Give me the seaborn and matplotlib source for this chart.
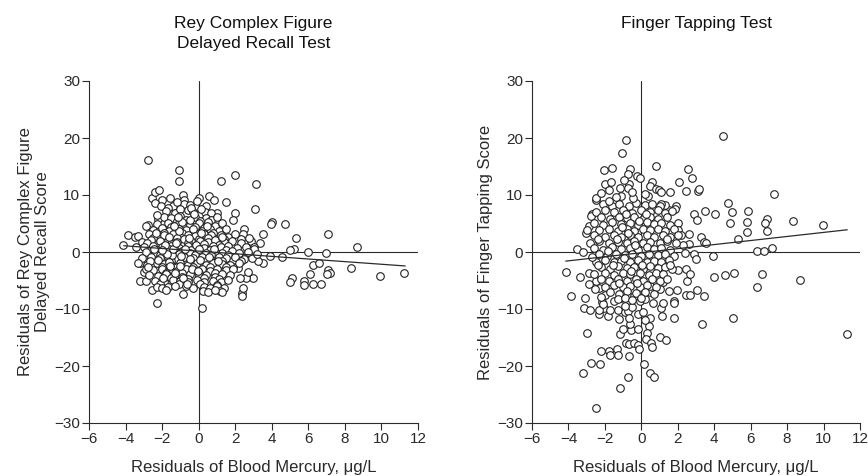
import matplotlib
matplotlib.use("Agg")
import matplotlib.pyplot as plt
import seaborn as sns
import pandas as pd

# ---------------- data ----------------
titles = ["Rey Complex Figure\nDelayed Recall Test", "Finger Tapping Test"]
ylabels = ["Residuals of Rey Complex Figure\nDelayed Recall Score",
           "Residuals of Finger Tapping Score"]
xlabel = "Residuals of Blood Mercury, \u03bcg/L"
x_ticks = [-6, -4, -2, 0, 2, 4, 6, 8, 10, 12]
y_ticks = [-30, -20, -10, 0, 10, 20, 30]

# Rey Complex Figure: (mercury residual, score residual)
rey_points = [
    # outliers / sparse
    (-2.77, 16.1), (-1.07, 14.4), (-1.07, 12.4), (1.24, 12.5), (1.99, 13.5), (3.11, 11.9),
    (3.10, 7.5), (0.02, 9.5), (0.56, 9.8), (0.84, 9.2), (1.49, 8.7), (1.99, 6.9), (1.88, 5.6),
    (2.48, 4.0), (2.44, 3.2), (2.88, 2.0), (3.52, 3.2), (3.37, 1.6), (4.01, 5.3), (3.97, 4.9),
    (4.72, 4.9), (5.30, 2.5), (5.21, 0.6), (4.97, 0.3), (5.97, 0.0), (7.07, 3.2), (6.98, -0.1),
    (8.67, 0.8), (3.92, -0.7), (4.57, -0.8), (3.50, -2.0), (3.24, -1.5), (5.08, -4.5),
    (5.01, -5.3), (5.77, -5.0), (5.76, -5.8), (6.08, -3.9), (6.28, -2.2), (6.56, -1.9),
    (6.28, -5.7), (6.68, -5.7), (7.10, -3.1), (7.21, -3.6), (7.03, -3.9), (8.31, -2.8),
    (9.93, -4.2), (11.22, -3.6), (2.39, -7.2), (2.39, -7.7), (2.42, -6.4), (0.18, -9.9),
    (-2.26, -8.9), (-0.87, -7.3), (2.97, -4.5), (2.60, -4.5), (2.28, -4.5), (2.70, -3.5),
    (2.13, -2.8), (1.88, -2.6), (-4.13, 1.3), (-3.86, 3.0), (-3.50, 2.6), (-3.41, 0.8),
    (-3.22, -5.0), (-2.86, -5.0), (-3.22, -2.0), (-3.00, -3.5), (-2.57, -6.7),
    (2.55, -0.6), (2.90, -1.1), (3.05, 0.9), (2.75, 2.4), (2.30, 2.2),
    # upper cluster
    (-2.53, 9.5), (-1.99, 9.2), (-1.55, 9.5), (-0.86, 10.0), (-0.80, 9.2), (-2.40, 8.6),
    (-2.04, 8.0), (-1.40, 8.1), (-0.80, 8.5), (-2.37, 10.5), (-2.17, 10.9), (-2.77, 4.8),
    (-2.90, 4.5), (-1.20, 8.8), (-0.50, 8.3), (0.40, 8.0), (-1.70, 7.8), (1.00, 6.8), (-0.10, 9.0),
    (-1.8, 7.2), (-1.3, 6.8), (-0.6, 7.4), (-0.3, 7.0), (0.1, 6.6), (0.35, 7.1), (0.7, 6.9),
    (-1.0, 7.6), (-0.4, 7.8), (0.15, 7.5),
    (-2.2, 5.8), (-1.9, 6.2), (-1.5, 5.9), (-1.0, 6.3), (-0.7, 5.7), (-0.2, 6.1), (0.4, 6.0),
    (0.7, 5.6), (1.0, 6.2), (-2.3, 6.5), (-1.2, 5.4), (0.1, 5.5),
    (-2.3, 4.9), (-1.7, 5.1), (-1.2, 4.7), (-0.9, 5.2), (-0.5, 4.8), (0.0, 5.0), (0.5, 5.3),
    (0.9, 4.6), (1.3, 5.1), (-1.5, 4.4), (-0.2, 4.4), (0.3, 4.2),
    (-2.5, 3.9), (-2.0, 4.2), (-1.6, 3.7), (-1.1, 4.0), (-0.7, 3.8), (-0.3, 4.1), (0.2, 3.6),
    (0.6, 4.0), (1.1, 3.7), (1.5, 4.1), (-1.9, 3.4), (-0.9, 3.3), (0.8, 3.3),
    (-3.3, 2.8), (-2.7, 3.1), (-2.3, 2.9), (-1.9, 3.0), (-1.4, 3.2), (-1.0, 2.7), (-0.6, 3.0),
    (-0.2, 2.8), (0.3, 3.1), (0.7, 2.9), (1.2, 3.0), (1.6, 2.6), (2.0, 3.1), (-2.5, 2.5),
    (-1.2, 2.4), (0.0, 2.3), (0.5, 2.5), (1.4, 2.2),
    (-3.1, 1.8), (-2.6, 2.1), (-2.1, 1.9), (-1.7, 2.0), (-1.2, 1.8), (-0.8, 2.2), (-0.4, 1.9),
    (0.1, 2.0), (0.5, 1.7), (0.9, 2.1), (1.4, 1.8), (1.8, 2.0), (2.3, 1.6), (-2.8, 1.5),
    (-1.5, 1.4), (-0.6, 1.5), (0.3, 1.4), (1.1, 1.3),
    (-3.0, 0.9), (-2.5, 1.1), (-2.0, 0.8), (-1.5, 1.0), (-1.1, 0.7), (-0.6, 1.1), (-0.2, 0.9),
    (0.3, 0.7), (0.8, 1.0), (1.2, 0.8), (1.6, 1.1), (2.1, 0.7), (2.6, 0.9), (3.0, 0.6),
    (-2.3, 0.4), (-1.3, 0.3), (-0.4, 0.4), (0.6, 0.3), (1.5, 0.4),
    (-2.9, 0.0), (-2.4, -0.2), (-1.8, 0.1), (-1.4, -0.1), (-0.9, 0.2), (-0.5, -0.1), (0.0, 0.1),
    (0.4, -0.2), (0.9, 0.0), (1.3, -0.2), (1.8, 0.1), (2.2, -0.1), (2.7, 0.0), (3.2, -0.3),
    (-2.1, -0.5), (-1.1, -0.4), (-0.2, -0.5), (0.7, -0.5), (1.6, -0.6),
    (-3.1, -1.0), (-2.6, -0.8), (-2.1, -1.1), (-1.7, -0.9), (-1.3, -1.2), (-0.8, -0.9),
    (-0.3, -1.1), (0.2, -0.8), (0.6, -1.2), (1.1, -0.9), (1.5, -1.1), (2.0, -0.8), (2.5, -1.2),
    (-1.5, -1.5), (-0.5, -1.6), (0.4, -1.5), (1.3, -1.6), (2.3, -1.5),
    (-3.3, -2.0), (-2.8, -2.2), (-2.3, -1.9), (-1.9, -2.1), (-1.5, -2.3), (-1.0, -1.9),
    (-0.6, -2.2), (-0.1, -2.0), (0.4, -2.3), (0.8, -1.9), (1.3, -2.1), (1.7, -2.2), (2.2, -1.9),
    (-2.0, -2.6), (-1.2, -2.7), (-0.3, -2.6), (0.6, -2.7), (1.5, -2.6),
    (-2.9, -3.0), (-2.5, -3.2), (-2.0, -2.9), (-1.6, -3.1), (-1.2, -3.3), (-0.7, -2.9),
    (-0.3, -3.2), (0.2, -3.0), (0.6, -3.3), (1.0, -2.9), (1.5, -3.2), (1.9, -3.0),
    (-1.8, -3.6), (-0.9, -3.7), (0.0, -3.6), (0.9, -3.7),
    (-2.7, -4.0), (-2.2, -4.2), (-1.8, -3.9), (-1.3, -4.1), (-0.9, -4.3), (-0.5, -3.9),
    (0.0, -4.2), (0.4, -4.0), (0.9, -4.3), (1.3, -3.9), (1.7, -4.1), (-1.5, -4.6), (-0.6, -4.7),
    (0.3, -4.6), (1.1, -4.7),
    (-2.4, -5.0), (-1.9, -5.2), (-1.4, -4.9), (-1.0, -5.1), (-0.6, -5.3), (-0.1, -4.9),
    (0.3, -5.2), (0.8, -5.0), (1.2, -5.3), (1.6, -4.9), (-2.1, -5.6), (-1.1, -5.7), (0.1, -5.6),
    (1.0, -5.8),
    (-2.3, -6.2), (-2.0, -6.4), (-1.7, -6.1), (-0.7, -6.0), (-0.3, -6.3), (0.3, -6.1),
    (0.6, -6.4), (1.0, -6.0), (1.4, -6.3), (-1.3, -6.0),
    (0.25, -6.8), (0.5, -7.0), (1.15, -6.9), (1.3, -7.1), (-1.77, -6.6), (0.9, -6.7),
    # dense core extras
    (-1.65, 0.5), (-1.45, -0.6), (-1.6, -1.8), (-1.55, -2.5), (-1.75, -0.3), (-1.4, 0.6),
    (-1.25, 1.5), (-0.95, -0.7), (-0.75, 0.5), (-0.55, 2.4), (-0.35, -2.9), (-0.15, 1.3),
    (0.05, -1.4), (0.15, 3.4), (-0.05, -3.4), (-1.85, 1.3), (-2.2, -1.4), (-2.45, 0.6),
    (-2.65, -1.6), (-1.05, 3.6), (-0.85, -4.6), (-0.45, 5.6), (0.55, -0.9), (0.85, 0.6),
    (1.05, -1.6), (1.25, 2.6), (-2.35, 3.4), (-2.75, -2.6), (-1.95, -4.6), (-1.35, 4.6),
    (-0.65, -5.6), (0.45, 4.6), (-0.25, 6.6), (-1.15, 6.2), (-1.6, 2.6), (-1.0, -2.4),
    (-0.5, -1.2), (0.0, 0.6), (-2.0, 0.3), (-1.3, -3.6),
]

# Finger Tapping Test: (mercury residual, score residual)
tap_points = [
    # outliers / sparse
    (4.48, 20.3), (-0.84, 19.7), (-1.06, 17.3), (-2.07, 14.3), (-1.59, 14.8), (-0.60, 14.6),
    (0.82, 15.1), (2.54, 14.6), (2.80, 12.9), (2.07, 12.2), (2.47, 10.7), (3.11, 10.7),
    (3.14, 11.1), (7.26, 10.1), (4.73, 8.6), (3.51, 7.2), (4.02, 6.7), (5.00, 7.0), (5.86, 7.2),
    (2.91, 6.7), (3.05, 5.7), (4.86, 5.1), (5.78, 5.3), (6.88, 5.8), (6.79, 5.1), (6.88, 3.6),
    (8.33, 5.5), (9.96, 4.8), (5.79, 3.5), (5.32, 2.3), (3.29, 2.6), (3.42, 1.8), (3.55, 1.5),
    (6.33, 0.2), (6.71, 0.2), (7.17, 0.7), (2.91, -0.3), (3.00, -1.3), (3.95, -0.7),
    (5.06, -3.6), (4.61, -4.1), (6.62, -3.9), (3.99, -4.4), (6.33, -6.2), (8.70, -4.9),
    (3.05, -6.7), (3.46, -7.7), (2.43, -7.6), (2.65, -7.6), (5.03, -11.5), (3.31, -12.6),
    (11.30, -14.3), (-4.12, -3.5), (-3.86, -7.8), (-3.53, 0.5), (-3.38, -4.3), (-3.22, 0.0),
    (-3.11, -8.1), (-3.15, -9.8), (-2.84, -10.1), (-2.97, -14.2), (-3.20, -21.2),
    (-2.78, -19.5), (-2.25, -19.6), (-2.47, -27.3), (-2.19, -17.4), (-1.79, -17.4),
    (-1.73, -18.1), (-1.15, -23.8), (-0.75, -21.9), (-1.33, -17.1), (-1.30, -18.1),
    (-0.69, -18.3), (0.16, -19.7), (0.46, -21.3), (0.71, -22.0), (-1.15, -14.4),
    (-0.58, -13.6), (-0.60, -12.7), (-0.86, -16.0), (-0.67, -16.2), (-0.42, -16.0),
    (-0.20, -16.3), (-0.11, -17.1), (0.44, -12.9), (0.31, -14.2), (0.26, -15.3), (0.53, -16.0),
    (0.58, -16.7), (1.04, -14.9), (1.33, -15.5), (1.06, -9.9), (1.15, -11.2), (1.19, -8.9),
    (1.79, -11.5), (-2.30, -10.9), (-1.83, -11.3), (-2.05, -9.8), (-2.16, -8.7),
    # upper cluster
    (-2.47, 9.2), (-2.50, 9.4), (-2.71, 6.7), (-2.75, 6.4), (-2.89, 4.6), (-3.05, 3.3),
    (-3.00, 3.9), (-1.97, 11.9), (-1.66, 12.2), (-1.75, 10.9), (-1.19, 11.3), (-1.10, 9.9),
    (-0.69, 12.0), (-0.75, 11.2), (-0.73, 13.7), (-0.24, 13.3), (-0.05, 12.9), (0.57, 12.3),
    (0.50, 11.6), (0.82, 11.1), (0.95, 10.9), (1.08, 10.5), (1.55, 10.6), (1.88, 8.0),
    (1.85, 7.6), (1.99, 5.0), (2.00, 3.8), (1.50, 7.4), (1.30, 8.2), (1.10, 8.5),
    (2.18, 2.9), (2.60, 3.2), (2.60, 1.4), (2.30, 1.3), (2.41, -0.2), (2.47, -2.9),
    (2.50, -5.0), (2.65, -3.9), (2.01, -3.2), (1.96, -6.7), (1.77, -8.6), (1.80, -9.0),
    (1.00, -6.5), (1.20, -5.2), (1.50, -6.9),
    # lower cluster
    (-2.30, -10.1), (-2.10, -9.2), (-1.74, -10.1), (-1.30, -10.2), (-1.10, -8.0),
    (-0.88, -10.5), (-0.75, -10.4), (-0.50, -9.6), (-0.16, -10.9), (0.10, -10.6),
    (-0.10, -8.6), (0.20, -8.2), (0.45, -7.0), (0.50, -5.9), (-0.40, -7.7), (-1.50, -8.6),
    (-2.00, -7.6), (-2.30, -6.3), (-2.50, -5.0), (-2.85, -5.6), (-2.85, -3.6), (-2.55, -6.5),
    (-2.20, -7.9), (-1.00, -13.5), (-0.90, -9.4), (-0.20, -13.5), (0.50, -11.5), (0.20, -12.0),
    # core
    (-2.1, 8.5), (-1.6, 8.1), (-1.2, 8.4), (-0.7, 8.0), (-0.3, 8.6), (0.2, 8.2), (0.6, 8.5), (1.0, 8.0),
    (-2.5, 7.0), (-2.0, 7.4), (-1.5, 7.1), (-1.0, 7.3), (-0.5, 6.9), (0.0, 7.4), (0.5, 7.0),
    (0.9, 7.3), (1.3, 6.9), (1.7, 7.2),
    (-2.2, 6.1), (-1.7, 5.8), (-1.2, 6.2), (-0.8, 5.9), (-0.4, 6.2), (0.1, 5.8), (0.5, 6.1),
    (0.9, 5.8), (1.4, 6.1),
    (-2.6, 5.0), (-2.1, 4.8), (-1.6, 5.2), (-1.1, 4.9), (-0.6, 5.1), (-0.2, 4.8), (0.3, 5.2),
    (0.7, 4.9), (1.1, 5.1), (1.6, 4.8),
    (-2.3, 3.8), (-1.8, 4.1), (-1.3, 3.7), (-0.8, 4.0), (-0.4, 3.7), (0.1, 4.1), (0.5, 3.8),
    (0.9, 4.0), (1.3, 3.7), (1.8, 4.0),
    (-2.6, 2.9), (-2.0, 2.6), (-1.5, 3.0), (-1.1, 2.7), (-0.6, 2.9), (-0.2, 2.6), (0.3, 3.0),
    (0.7, 2.7), (1.2, 2.9), (1.6, 2.6), (2.0, 2.9),
    (-2.8, 1.6), (-2.3, 1.9), (-1.8, 1.5), (-1.3, 1.8), (-0.8, 1.6), (-0.4, 1.9), (0.1, 1.5),
    (0.5, 1.8), (1.0, 1.6), (1.4, 1.9), (1.9, 1.5),
    (-2.6, 0.7), (-2.1, 0.4), (-1.6, 0.8), (-1.1, 0.5), (-0.6, 0.7), (-0.2, 0.4), (0.3, 0.8),
    (0.7, 0.5), (1.1, 0.7), (1.6, 0.4),
    (-2.3, -0.4), (-1.9, -0.7), (-1.4, -0.3), (-0.9, -0.6), (-0.5, -0.4), (0.0, -0.7),
    (0.4, -0.3), (0.9, -0.6), (1.3, -0.4), (1.8, -0.7),
    (-2.5, -1.7), (-2.0, -1.4), (-1.5, -1.8), (-1.1, -1.5), (-0.6, -1.7), (-0.2, -1.4),
    (0.3, -1.8), (0.7, -1.5), (1.1, -1.7), (1.5, -1.4),
    (-2.2, -2.6), (-1.7, -2.9), (-1.3, -2.5), (-0.8, -2.8), (-0.4, -2.6), (0.1, -2.9),
    (0.5, -2.5), (0.9, -2.8), (1.3, -2.6), (1.7, -2.9),
    (-2.6, -3.9), (-2.0, -3.6), (-1.5, -4.0), (-1.0, -3.7), (-0.6, -3.9), (-0.1, -3.6),
    (0.4, -4.0), (0.8, -3.7), (1.2, -3.9),
    (-2.2, -4.8), (-1.8, -5.1), (-1.3, -4.7), (-0.8, -5.0), (-0.3, -4.8), (0.1, -5.1),
    (0.6, -4.7), (1.0, -5.0), (1.4, -4.8),
    (-2.0, -6.1), (-1.5, -5.8), (-1.0, -6.2), (-0.6, -5.9), (-0.1, -6.1), (0.3, -5.8), (0.8, -6.1),
    (-1.7, -7.0), (-1.2, -7.3), (-0.8, -6.9), (-0.3, -7.2), (0.2, -7.0), (0.7, -7.3),
    (-1.3, -8.3), (-0.9, -8.1), (-0.5, -8.4), (0.0, -8.0),
    # dense core extras
    (-1.35, 2.2), (-0.95, -1.0), (-0.75, 3.4), (-0.55, -3.3), (-0.35, 1.2), (-0.15, 5.4),
    (0.05, -2.2), (0.25, 6.6), (-1.55, -2.2), (-1.85, 0.1), (-0.85, 6.7), (-1.05, 4.4),
    (-0.45, 9.5), (-1.4, 9.6), (0.35, 9.8), (-0.25, -5.4), (-1.2, -5.5), (0.65, -9.0),
    (-0.65, -11.5), (-1.25, -11.8), (-0.5, 10.6), (-1.8, 9.0), (-2.4, 2.3), (-2.7, -0.9),
    (-2.4, -2.3), (1.6, -2.2), (1.4, 2.3), (0.2, 10.1), (-0.95, 12.6), (-2.2, 10.3),
]

# fitted regression lines (end points)
rey_fit_x = [-4.1, 11.3]
rey_fit_y = [1.1, -2.45]
tap_fit_x = [-4.15, 11.3]
tap_fit_y = [-1.6, 3.9]

# ---------------- plotting ----------------
sns.set_theme(style="ticks")
plt.rcParams["font.family"] = ["Liberation Sans", "DejaVu Sans"]
plt.rcParams["axes.unicode_minus"] = True

TXT = "#2a2a2a"
LINE = "#2a2a2a"

fig = plt.figure(figsize=(8.68, 4.76), dpi=100)
ax1 = fig.add_axes([89 / 868, 1 - 423 / 476, 329 / 868, 342 / 476])
ax2 = fig.add_axes([532 / 868, 1 - 423 / 476, 328 / 868, 342 / 476])

panels = [
    (ax1, rey_points, rey_fit_x, rey_fit_y, 0),
    (ax2, tap_points, tap_fit_x, tap_fit_y, 1),
]

for ax, pts, fx, fy, i in panels:
    df = pd.DataFrame(pts, columns=["mercury", "score"])
    ax.axhline(0, color=LINE, lw=0.8, zorder=1)
    ax.axvline(0, color=LINE, lw=0.8, zorder=1)
    sns.scatterplot(data=df, x="mercury", y="score", ax=ax, s=30,
                    facecolor="white", edgecolor="#222222", linewidth=0.8,
                    zorder=3, legend=False)
    fit = pd.DataFrame({"x": fx, "y": fy})
    sns.lineplot(data=fit, x="x", y="y", ax=ax, color=LINE, lw=0.9, zorder=4)

    ax.set_xlim(-6, 12)
    ax.set_ylim(-30, 30)
    ax.set_xticks(x_ticks)
    ax.set_yticks(y_ticks)
    ax.set_xticklabels([str(t).replace("-", "\u2212") for t in x_ticks])
    ax.set_yticklabels([str(t).replace("-", "\u2212") for t in y_ticks])
    sns.despine(ax=ax)
    for sp in ("left", "bottom"):
        ax.spines[sp].set_linewidth(0.8)
        ax.spines[sp].set_color(LINE)
    ax.tick_params(direction="out", length=5, width=0.8, color=LINE,
                   labelsize=11, labelcolor=TXT, pad=1.5)
    ax.set_xlabel(xlabel, fontsize=12, color=TXT, labelpad=10)
    ax.set_ylabel(ylabels[i], fontsize=12, color=TXT, labelpad=3,
                  linespacing=1.2)
    bb = ax.get_position()
    fig.text((bb.x0 + bb.x1) / 2, 1 - 16 / 476, titles[i], ha="center", va="top",
             fontsize=12.5, color="#111111", linespacing=1.4)

fig.savefig("out.png", dpi=100, facecolor="white")
